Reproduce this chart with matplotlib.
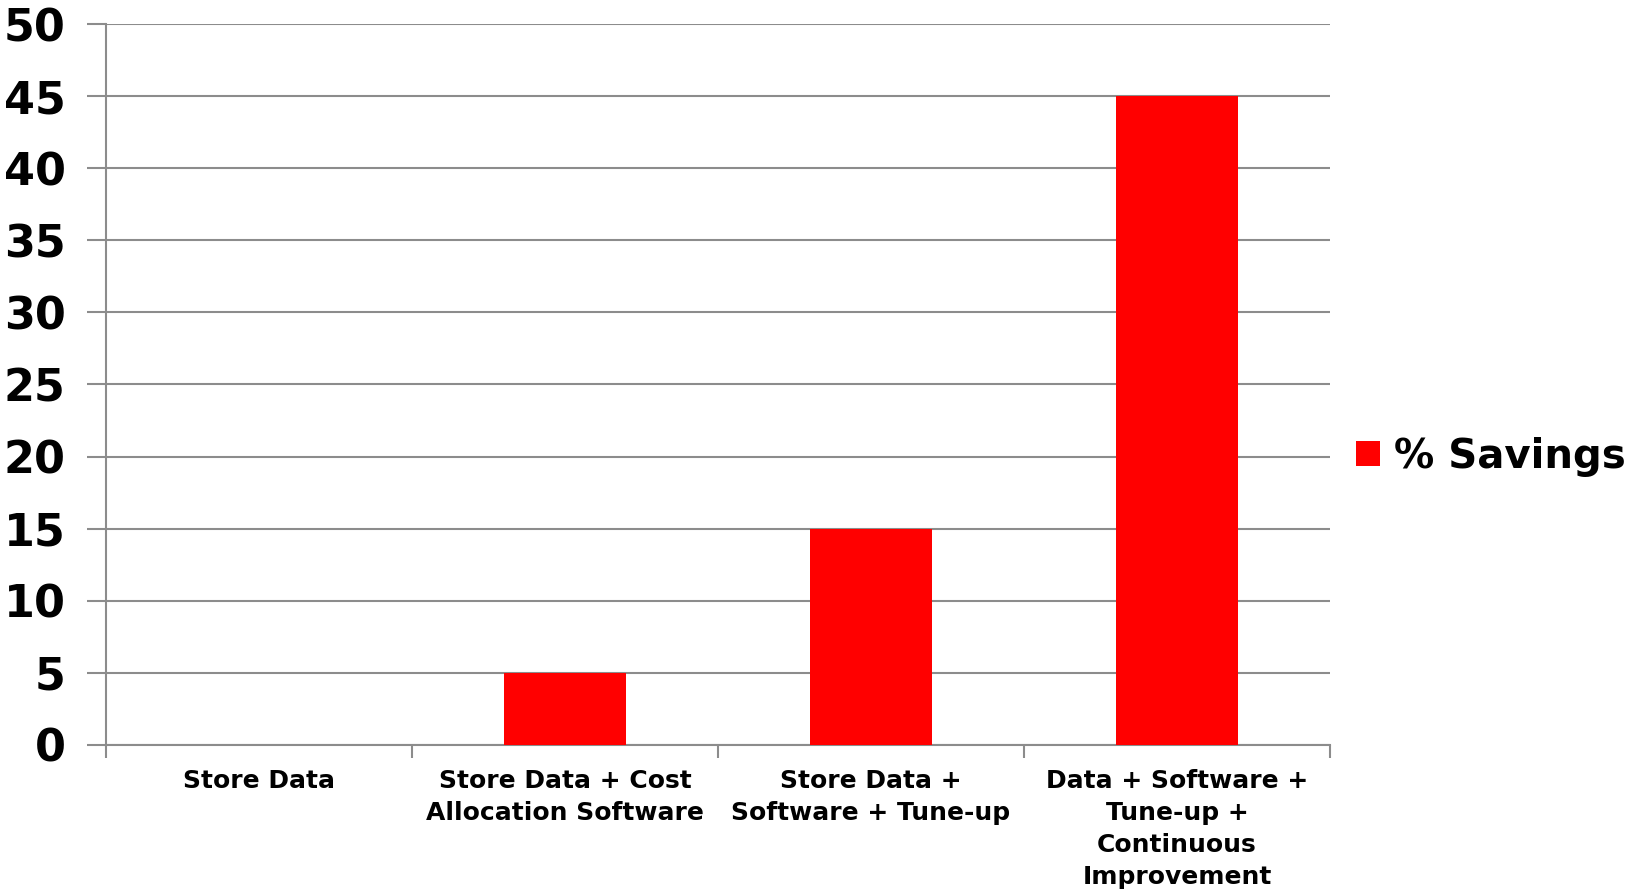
import matplotlib.pyplot as plt
import numpy as np

# data
categories = ['Store Data', 'Store Data + Cost\nAllocation Software',
              'Store Data +\nSoftware + Tune-up',
              'Data + Software +\nTune-up +\nContinuous\nImprovement']
savings = [0, 5, 15, 45]
yticks = [0, 5, 10, 15, 20, 25, 30, 35, 40, 45, 50]

fig = plt.figure(figsize=(16.31, 8.91), dpi=100)
ax = fig.add_axes([0.065, 0.164, 0.7505, 0.809])

x = np.arange(len(categories))
ax.bar(x, savings, width=0.4, color='#ff0000', label='% Savings', zorder=3)

ax.set_xlim(-0.5, len(categories) - 0.5)
ax.set_ylim(0, 50)
ax.set_yticks(yticks)
ax.set_yticklabels([str(v) for v in yticks], fontsize=32, fontweight='bold',
                   family='DejaVu Sans')
ax.yaxis.grid(True, color='#8c8c8c', linewidth=1.5, zorder=0)

# category labels between boundary ticks
ax.set_xticks(np.arange(len(categories) + 1) - 0.5)
ax.set_xticklabels([])
ax.tick_params(axis='x', length=9, width=1.5, color='#8c8c8c')
ax.tick_params(axis='y', length=14, width=1.5, color='#8c8c8c', pad=15)
for i, lab in enumerate(categories):
    ax.text(i, -1.7, lab, ha='center', va='top', fontsize=18,
            fontweight='bold', family='DejaVu Sans', linespacing=1.42,
            transform=ax.transData)

for s in ['top', 'right']:
    ax.spines[s].set_visible(False)
for s in ['left', 'bottom']:
    ax.spines[s].set_color('#8c8c8c')
    ax.spines[s].set_linewidth(1.5)

leg = ax.legend(loc='center left', bbox_to_anchor=(1.008, 0.40), frameon=False,
                prop={'family': 'DejaVu Sans', 'weight': 'bold', 'size': 29},
                handlelength=0.6, handleheight=0.6, handletextpad=0.35,
                borderaxespad=0)

plt.savefig('out.png', dpi=100)
